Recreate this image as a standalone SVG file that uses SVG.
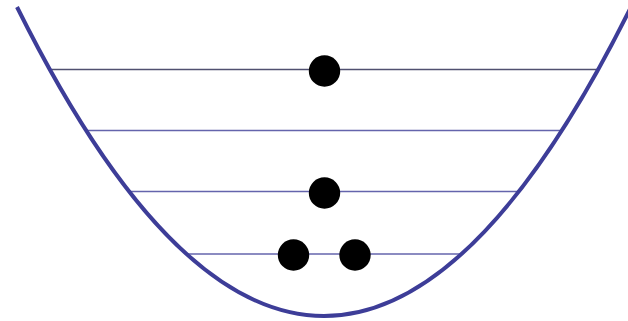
<svg xmlns="http://www.w3.org/2000/svg" width="628" height="321" viewBox="0 0 628 321">
<style>
.lvl{stroke:#6464ac;stroke-width:1.4;fill:none}
.well{stroke:#3d3d98;stroke-width:4;fill:none}
.p{fill:#000}
</style>
<rect width="628" height="321" fill="#fff"/>
<g id="levels">
<line class="lvl" x1="50" y1="69.5" x2="598" y2="69.5" style="stroke:#505070"/>
<line class="lvl" x1="87" y1="130.5" x2="560" y2="130.5"/>
<line class="lvl" x1="129" y1="191.5" x2="518" y2="191.5"/>
<line class="lvl" x1="186" y1="254" x2="462" y2="254"/>
</g>
<g id="well">
<path class="well" d="M17,7 Q324,625 631,7"/>
</g>
<g id="particles">
<circle class="p" cx="324.5" cy="71" r="15.7"/>
<circle class="p" cx="324.5" cy="193" r="15.7"/>
<circle class="p" cx="293.5" cy="255" r="15.7"/>
<circle class="p" cx="355" cy="255" r="15.7"/>
</g>
</svg>
